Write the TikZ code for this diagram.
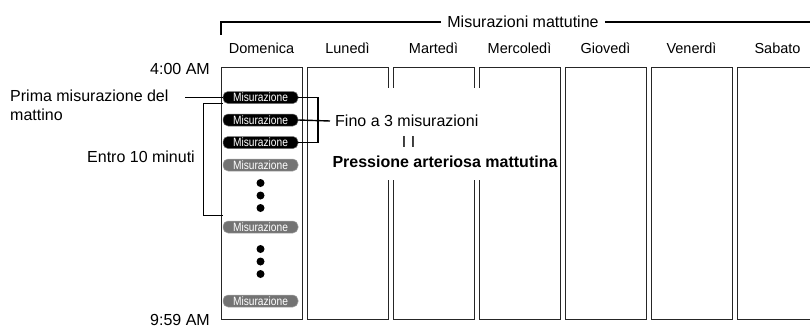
\documentclass[tikz,border=0pt]{standalone}
\usepackage{fontspec}
\setmainfont{Liberation Sans}
\newcommand{\misz}{\scalebox{0.85}[1]{Misurazione}}
\begin{document}
\begin{tikzpicture}[x=1pt,y=-1pt,
  lbl/.style={font=\fontsize{16}{19}\selectfont, inner sep=0pt},
  daylbl/.style={font=\fontsize{14.5}{17}\selectfont, inner sep=0pt},
  daybox/.style={draw=black!85, line width=0.9pt, minimum width=81pt, minimum height=252.5pt, anchor=north west, inner sep=0pt},
  pill/.style={rounded corners=5pt, minimum width=75pt, minimum height=12pt, inner sep=0pt, text=white, font=\fontsize{12}{12}\selectfont},
  pillk/.style={pill, fill=black, draw=black!55, line width=0.5pt},
  pillg/.style={pill, fill=black!55, draw=black!35, line width=0.5pt},
  conn/.style={line width=1.4pt, black},
  dotc/.style={circle, fill=black, inner sep=0pt, minimum size=8pt}]
\useasboundingbox (0,0) rectangle (810,329);
\clip (0,0) rectangle (810,329);
% title bracket
\node[lbl, inner xsep=6pt] (title) at (523,22) {Misurazioni mattutine};
\coordinate (tl) at (221,22);
\coordinate (tlb) at (221,35);
\coordinate (tr) at (815,22);
\draw[conn] (title.west) -- (tl) -- (tlb);
\draw[conn] (title.east) -- (tr);
% day boxes
\foreach \n/\x/\d in {dom/221/Domenica, lun/307/Luned\`i, mar/393/Marted\`i, mer/479/Mercoled\`i, gio/565/Gioved\`i, ven/651/Venerd\`i, sab/737/Sabato}{
  \node[daybox] (\n) at (\x,66.5) {};
  \node[daylbl] (\n-l) at (\x+40.5,48) {\d};
}
% white mask behind text
\fill[white] (326,88) rectangle (557,180);
% times
\node[lbl, anchor=east] (t1) at (210,68.5) {4:00 AM};
\node[lbl, anchor=east] (t2) at (210,320) {9:59 AM};
% pills
\node[pillk] (p1) at (260.5,97.5) {\misz};
\node[pillk] (p2) at (260.5,120) {\misz};
\node[pillk] (p3) at (260.5,142.5) {\misz};
\node[pillg] (p4) at (260.5,165) {\misz};
\node[pillg] (p5) at (260.5,227) {\misz};
\node[pillg] (p6) at (260.5,301) {\misz};
% dots
\foreach \i/\y in {1/183,2/195.5,3/208,4/249,5/261.5,6/274}{
  \node[dotc] (dt\i) at (260.5,\y) {};
}
% left labels
\node[lbl, anchor=north west, align=left, font=\fontsize{16}{19}\selectfont] (prima) at (10,90) {Prima misurazione del\\mattino};
\coordinate (pl) at (185,97.5);
\draw[conn] (pl) -- (p1.west);
\node[lbl, anchor=east] (entro) at (195,157) {Entro 10 minuti};
\draw[conn] (p1.south west) -- ++(-19,0) |- ([yshift=5pt]p5.north west);
% right bracket
\coordinate (rb1) at (318,97.5);
\coordinate (rb3) at (318,142.5);
\draw[conn] (p1.east) -- (rb1) -- (rb3) -- (p3.east);
\node[lbl, anchor=west] (fino) at (335,121) {Fino a 3 misurazioni};
\draw[conn] (p2.east) -- ([xshift=-5pt]fino.west);
\node[lbl] (eq) at (408.5,142) {I\hspace{4.5pt}I};
\node[lbl, font=\fontsize{16}{19}\selectfont\bfseries] (press) at (445,162) {Pressione arteriosa mattutina};
\end{tikzpicture}
\end{document}
